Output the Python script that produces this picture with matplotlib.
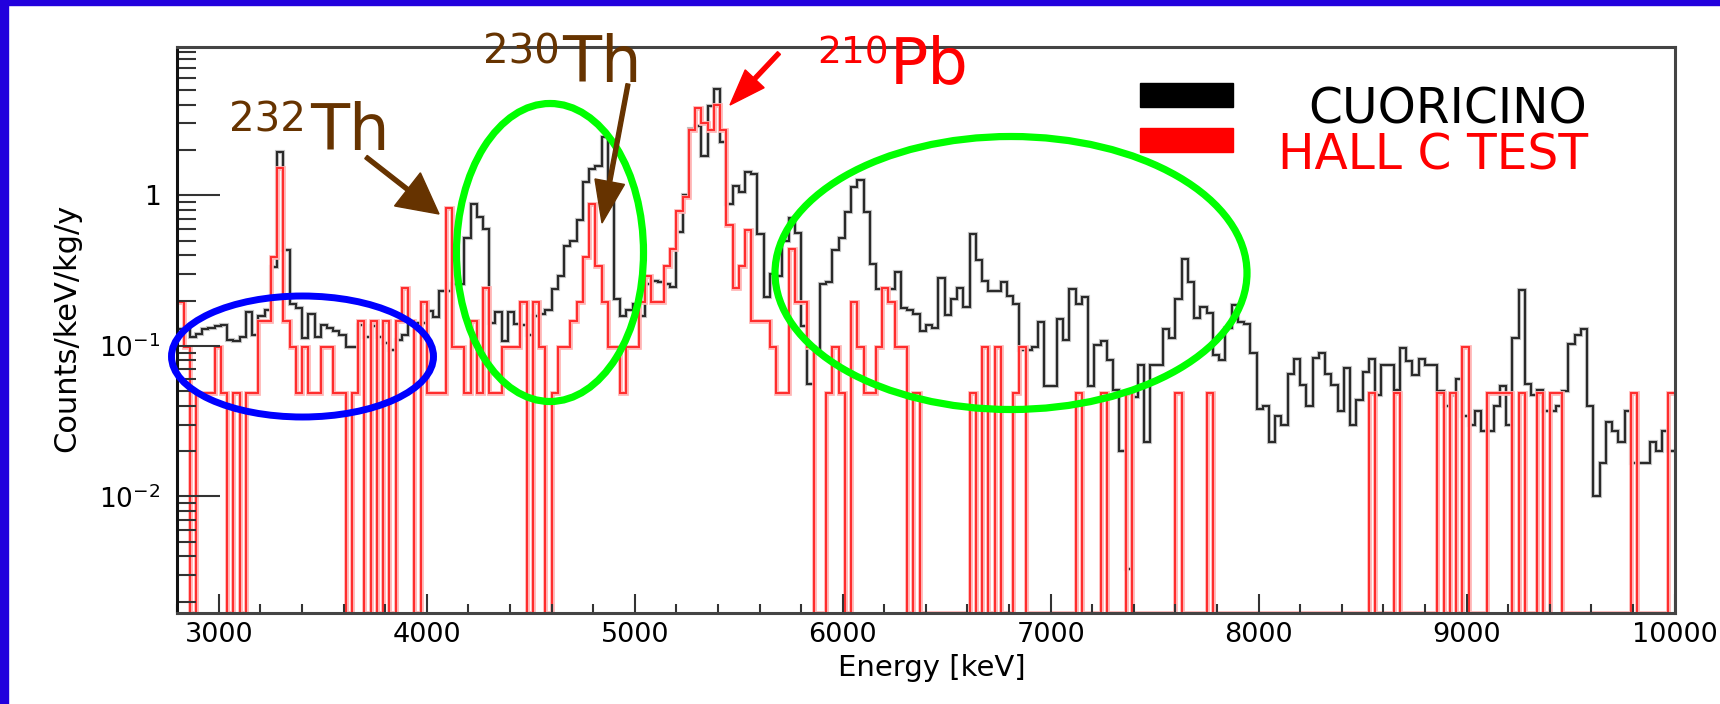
import numpy as np
import matplotlib.pyplot as plt
from matplotlib.patches import Ellipse, Rectangle, FancyArrow
from matplotlib.transforms import IdentityTransform
from matplotlib.ticker import FixedLocator, MultipleLocator, LogLocator, NullFormatter

W, H = 1720, 704

# histogram binning (keV)
e_lo, e_hi, e_step = 2800, 10000, 30

# CUORICINO spectrum, counts/keV/kg/y per 30 keV bin, starting at 2800 keV
cuoricino = [
    0.13, 0.132, 0.115, 0.12, 0.13, 0.132, 0.135, 0.137, 0.11, 0.107,      # 2800
    0.115, 0.169, 0.118, 0.157, 0.173, 0.336, 1.95, 0.43, 0.19, 0.178,     # 3100
    0.112, 0.163, 0.115, 0.137, 0.132, 0.125, 0.118, 0.099, 0.099, 0.137,  # 3400
    0.115, 0.135, 0.115, 0.104, 0.094, 0.11, 0.118, 0.142, 0.142, 0.142,   # 3700
    0.171, 0.155, 0.232, 0.232, 0.259, 0.259, 0.52, 0.88, 0.72, 0.6,       # 4000
    0.142, 0.169, 0.107, 0.169, 0.139, 0.137, 0.118, 0.157, 0.162, 0.174,  # 4300
    0.24, 0.29, 0.46, 0.5, 0.69, 1.22, 1.5, 1.57, 2.45, 0.9,               # 4600
    0.205, 0.159, 0.173, 0.191, 0.159, 0.259, 0.27, 0.267, 0.259, 0.247,   # 4900
    0.57, 1.0, 2.75, 2.88, 1.81, 3.92, 5.1, 2.26, 0.88, 1.15,              # 5200
    1.05, 1.43, 1.38, 0.55, 0.21, 0.3, 0.29, 0.5, 0.71, 0.56,              # 5500
    0.135, 0.056, 0.094, 0.259, 0.267, 0.43, 0.52, 0.77, 1.14, 1.27,       # 5800
    0.77, 0.35, 0.24, 0.24, 0.24, 0.31, 0.178, 0.172, 0.163, 0.125,        # 6100
    0.137, 0.132, 0.281, 0.16, 0.205, 0.241, 0.18, 0.55, 0.373, 0.27,      # 6400
    0.23, 0.23, 0.267, 0.215, 0.191, 0.094, 0.094, 0.099, 0.143, 0.054,    # 6700
    0.054, 0.15, 0.11, 0.238, 0.191, 0.212, 0.054, 0.102, 0.107, 0.081,    # 7000
    0.051, 0.02, 0.0033, 0.046, 0.075, 0.023, 0.075, 0.075, 0.13, 0.113,   # 7300
    0.205, 0.376, 0.267, 0.152, 0.18, 0.165, 0.087, 0.081, 0.132, 0.187,   # 7600
    0.143, 0.139, 0.089, 0.038, 0.04, 0.023, 0.034, 0.03, 0.065, 0.082,    # 7900
    0.055, 0.04, 0.083, 0.089, 0.065, 0.055, 0.037, 0.071, 0.03, 0.044,    # 8200
    0.067, 0.082, 0.047, 0.075, 0.075, 0.051, 0.097, 0.079, 0.064, 0.082,  # 8500
    0.075, 0.075, 0.05, 0.04, 0.047, 0.06, 0.034, 0.03, 0.037, 0.027,      # 8800
    0.027, 0.04, 0.054, 0.03, 0.112, 0.235, 0.056, 0.047, 0.051, 0.037,    # 9100
    0.037, 0.04, 0.05, 0.103, 0.118, 0.129, 0.04, 0.01, 0.0166, 0.031,     # 9400
    0.027, 0.023, 0.037, 0.0166, 0.0166, 0.0166, 0.023, 0.02, 0.027, 0.02, # 9700
]

# Hall C test: raw counts per bin, one count = hallc_unit counts/keV/kg/y
hallc_counts = [
    4, 2, 0, 1, 1, 1, 2, 1, 0, 1,        # 2800
    0, 1, 1, 3, 3, 8, 31, 3, 2, 1,       # 3100
    2, 1, 1, 2, 2, 1, 1, 0, 1, 3,        # 3400
    0, 3, 0, 3, 0, 3, 5, 3, 0, 4,        # 3700
    1, 1, 1, 17, 2, 2, 1, 3, 1, 5,       # 4000
    1, 1, 2, 2, 2, 4, 0, 4, 2, 0,        # 4300
    1, 2, 2, 3, 4, 8, 18, 7, 4, 2,       # 4600
    2, 1, 2, 2, 4, 6, 4, 4, 7, 9,        # 4900
    16, 20, 56, 78, 62, 56, 82, 56, 13, 5,  # 5200
    7, 12, 3, 3, 3, 2, 1, 1, 9, 4,       # 5500
    4, 2, 0, 0, 1, 2, 1, 0, 4, 2,        # 5800
    1, 1, 2, 5, 4, 2, 2, 0, 1, 0,        # 6100
    0, 0, 0, 0, 0, 0, 0, 1, 0, 2,        # 6400
    0, 2, 0, 0, 1, 2, 0, 0, 0, 0,        # 6700
    0, 0, 0, 0, 1, 0, 0, 0, 1, 0,        # 7000
    0, 0, 1, 0, 0, 0, 0, 0, 0, 0,        # 7300
    1, 0, 0, 0, 0, 1, 0, 0, 0, 0,        # 7600
    0, 0, 0, 0, 0, 0, 0, 0, 0, 0,        # 7900
    0, 0, 0, 0, 0, 0, 0, 0, 0, 0,        # 8200
    0, 1, 0, 0, 0, 1, 0, 0, 0, 0,        # 8500
    0, 0, 1, 0, 1, 0, 2, 0, 0, 0,        # 8800
    1, 1, 1, 1, 0, 1, 0, 0, 1, 0,        # 9100
    1, 1, 0, 0, 0, 0, 0, 0, 0, 0,        # 9400
    0, 0, 0, 1, 0, 0, 0, 0, 0, 1,        # 9700
]
hallc_unit = 0.0488

y_lo, y_hi = 1.69e-3, 9.7
x_ticks = [3000, 4000, 5000, 6000, 7000, 8000, 9000, 10000]
y_ticks = [0.01, 0.1, 1]
y_ticklabels = ['$10^{-2}$', '$10^{-1}$', '1']

edges = np.arange(e_lo, e_hi + 1, e_step)
hallc = np.array(hallc_counts) * hallc_unit
hallc = np.where(hallc > 0, hallc, y_lo)   # empty bins drop to the floor

fig = plt.figure(figsize=(W / 100, H / 100), dpi=100)
fig.patch.set_facecolor('white')

# axes box in pixels: left 177, right 1674, top 47, bottom 613
ax = fig.add_axes([177.3 / W, 1 - 612.7 / H, (1674.5 - 177.3) / W, (612.7 - 46.7) / H])
ax.set_yscale('log')
ax.set_xlim(e_lo, e_hi)
ax.set_ylim(y_lo, y_hi)

ax.stairs(cuoricino, edges, baseline=None, color='#c4c4c4', lw=3.0)
ax.stairs(cuoricino, edges, baseline=None, color='#2a2a2a', lw=1.5)
ax.stairs(hallc, edges, baseline=None, color='#ffb4b4', lw=3.4)
ax.stairs(hallc, edges, baseline=None, color='#ff2b2b', lw=1.4)

ax.xaxis.set_major_locator(FixedLocator(x_ticks))
ax.xaxis.set_minor_locator(MultipleLocator(200))
ax.yaxis.set_major_locator(FixedLocator(y_ticks))
ax.set_yticklabels(y_ticklabels)
ax.yaxis.set_minor_locator(LogLocator(base=10, subs=np.arange(2, 10)))
ax.yaxis.set_minor_formatter(NullFormatter())
ax.tick_params(which='both', direction='in', top=False, right=False, colors='#333333', width=1.5)
ax.tick_params(axis='x', which='major', length=14, pad=7, labelsize=19.5, labelcolor='black')
ax.tick_params(axis='x', which='minor', length=6.5)
ax.tick_params(axis='y', which='major', length=31, pad=12, labelsize=19, labelcolor='black')
ax.tick_params(axis='y', which='minor', length=14)
for side in ['left', 'bottom', 'top', 'right']:
    ax.spines[side].set_linewidth(2.2)
    ax.spines[side].set_color('#444444')
ax.spines['left'].set_color('#111111')

fig.text(932 / W, 1 - 668 / H, 'Energy [keV]', ha='center', va='center', fontsize=21)
fig.text(66.5 / W, 1 - 327.5 / H, 'Counts/keV/kg/y', ha='center', va='center',
         rotation=90, fontsize=22)

ident = IdentityTransform()


def P(x, y):
    # image pixel (from top) -> display pixel (from bottom)
    return x, H - y


def ftext(x, y, s, **kw):
    fig.text(x / W, 1 - y / H, s, va='baseline', ha='left', **kw)


def arrow(x0, y0, x1, y1, color, width, hw, hl):
    a, b = P(x0, y0)
    c, d = P(x1, y1)
    fig.add_artist(FancyArrow(a, b, c - a, d - b, width=width, head_width=hw, head_length=hl,
                              length_includes_head=True, color=color, transform=ident))


brown = '#663300'
green = '#00ff00'

# ellipses
fig.add_artist(Ellipse(P(302.5, 356.5), 262, 121, fill=False, ec='#0000ff', lw=5, transform=ident))
fig.add_artist(Ellipse(P(550, 252.5), 187, 298, fill=False, ec=green, lw=5.2, transform=ident))
fig.add_artist(Ellipse(P(1011, 273), 472, 273, fill=False, ec=green, lw=5.2, transform=ident))

# isotope labels
ftext(229, 132, '232', color=brown, fontsize=29)
ftext(310, 150, 'Th', color=brown, fontsize=46)
arrow(366, 157, 439, 214, brown, 4, 42, 40)

ftext(483, 63, '230', color=brown, fontsize=29)
ftext(562, 82, 'Th', color=brown, fontsize=46)
arrow(628, 84, 602, 223, brown, 4, 30, 42)

ftext(817, 63, '210', color='red', fontsize=27)
ftext(890, 83, 'Pb', color='red', fontsize=46)
arrow(779, 53, 730, 105, 'red', 4, 26, 36)

# legend
fig.add_artist(Rectangle(P(1140, 106.7), 93, 24, color='black', transform=ident))
fig.add_artist(Rectangle(P(1140, 151.7), 93, 23.4, color='red', transform=ident))
ftext(1308, 123, 'CUORICINO', color='black', fontsize=35)
ftext(1278, 170, 'HALL C TEST', color='red', fontsize=35)

# slide frame
fig.add_artist(Rectangle(P(0, 5), W, 5, color='#2200dd', transform=ident))
fig.add_artist(Rectangle(P(0, H), 8, H, color='#2200dd', transform=ident))

fig.savefig('out.png', dpi=100)
